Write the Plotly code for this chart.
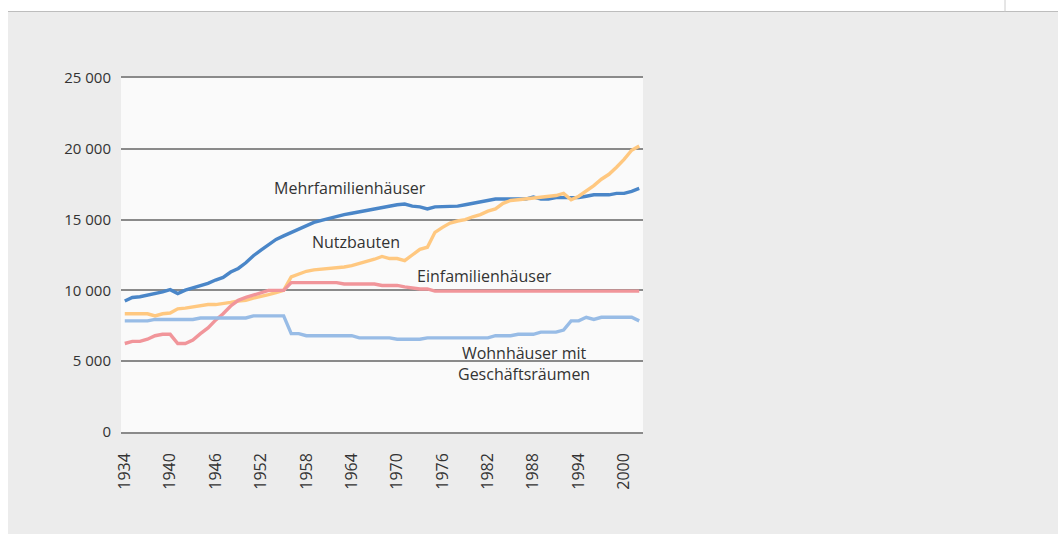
import plotly.graph_objects as go

years = list(range(1934, 2003))

mehrfamilien = [9250, 9500, 9550, 9650, 9800, 9900, 10050, 9780, 10020, 10180,
                10300, 10500, 10730, 10920, 11300, 11550, 11950, 12450, 12850, 13250,
                13600, 13850, 14100, 14350, 14550, 14800, 14950, 15100, 15250, 15350,
                15450, 15550, 15650, 15750, 15900, 15950, 16050, 16100, 15950, 15900,
                15750, 15900, 15900, 15900, 15950, 16050, 16150, 16250, 16300, 16450,
                16450, 16450, 16450, 16450, 16600, 16450, 16450, 16550, 16550, 16550,
                16550, 16650, 16750, 16750, 16750, 16850, 16850, 17000, 17200]

nutzbauten = [8350, 8350, 8350, 8350, 8200, 8350, 8400, 8700, 8750, 8850,
              8950, 9000, 9000, 9050, 9150, 9250, 9300, 9450, 9550, 9700,
              9850, 10000, 10950, 11150, 11350, 11450, 11500, 11500, 11600, 11650,
              11750, 11900, 12000, 12200, 12400, 12250, 12250, 12100, 12500, 12900,
              13050, 14100, 14450, 14750, 14900, 15000, 15200, 15350, 15600, 15750,
              16150, 16350, 16400, 16450, 16500, 16600, 16600, 16700, 16850, 16400,
              16650, 17000, 17400, 17850, 18200, 18700, 19250, 19900, 20200]

einfamilien = [6250, 6400, 6400, 6550, 6800, 6900, 6900, 6250, 6250, 6500,
               6950, 7350, 7900, 8350, 8900, 9300, 9500, 9650, 9800, 10000,
               10000, 10000, 10550, 10550, 10550, 10550, 10550, 10550, 10550, 10450,
               10450, 10450, 10450, 10450, 10350, 10350, 10350, 10250, 10150, 10100,
               10100, 9950, 9950, 9950, 9950, 9950, 9950, 9950, 9950, 9950,
               9950, 9950, 9950, 9950, 9950, 9950, 9950, 9950, 9950, 9950,
               9950, 9950, 9950, 9950, 9950, 9950, 9950, 9950, 9950]

wohn_geschaeft = [7850, 7850, 7850, 7850, 7950, 7950, 7950, 7950, 7950, 7950,
                  8050, 8050, 8050, 8050, 8050, 8050, 8050, 8200, 8200, 8200,
                  8200, 8200, 6950, 6950, 6800, 6800, 6800, 6800, 6800, 6800,
                  6800, 6650, 6650, 6650, 6650, 6650, 6550, 6550, 6550, 6550,
                  6650, 6650, 6650, 6650, 6650, 6650, 6650, 6650, 6650, 6800,
                  6800, 6800, 6900, 6900, 6900, 7050, 7050, 7050, 7200, 7850,
                  7850, 8100, 7950, 8100, 8100, 8100, 8100, 8100, 7850]

x_ticks = list(range(1934, 2001, 6))
y_ticks = [0, 5000, 10000, 15000, 20000, 25000]
y_tick_text = ["0", "5 000", "10 000", "15 000", "20 000", "25 000"]

series = [
    ("Mehrfamilienhäuser", mehrfamilien, "#4a86c8"),
    ("Nutzbauten", nutzbauten, "#ffc880"),
    ("Einfamilienhäuser", einfamilien, "#f1959a"),
    ("Wohnhäuser mit Geschäftsräumen", wohn_geschaeft, "#98bce6"),
]

labels = [
    ("Mehrfamilienhäuser", 1963.8, 17250),
    ("Nutzbauten", 1964.6, 13400),
    ("Einfamilienhäuser", 1981.5, 11010),
    ("Wohnhäuser mit<br>Geschäftsräumen", 1986.8, 4810),
]

W, H = 1058, 534
ML, MR, MT, MB = 121, 415, 78, 102
PW, PH = W - ML - MR, H - MT - MB

def px(x):
    return (x - ML) / PW

def py(y):
    return (H - MB - y) / PH

fig = go.Figure()
for name, vals, color in series:
    fig.add_trace(go.Scatter(x=years, y=vals, mode="lines", name=name,
                             line=dict(color=color, width=3.4)))

for text, x, y in labels:
    fig.add_annotation(x=x, y=y, xref="x", yref="y", text=text, showarrow=False,
                       font=dict(size=16, color="#333333", family="Open Sans"),
                       align="center")

shapes = [
    dict(type="rect", xref="paper", yref="paper", x0=px(-5), x1=px(W + 5),
         y0=py(11.5), y1=py(-5), fillcolor="white", line=dict(width=0), layer="above"),
    dict(type="rect", xref="paper", yref="paper", x0=px(-5), x1=px(8),
         y0=py(H + 5), y1=py(-5), fillcolor="white", line=dict(width=0), layer="above"),
    dict(type="line", xref="paper", yref="paper", x0=px(8), x1=px(W + 5),
         y0=py(11.5), y1=py(11.5), line=dict(color="#bdbdbd", width=1.2)),
    dict(type="line", xref="paper", yref="paper", x0=px(1005), x1=px(1005),
         y0=py(0), y1=py(11.5), line=dict(color="#cccccc", width=1)),
]

fig.update_layout(
    width=W, height=H,
    margin=dict(l=ML, r=MR, t=MT, b=MB, pad=0),
    paper_bgcolor="#ececec",
    plot_bgcolor="#fafafa",
    showlegend=False,
    shapes=shapes,
    font=dict(family="Open Sans", size=14, color="#333333"),
    xaxis=dict(range=[1933.5, 2002.5], tickvals=x_ticks, ticktext=[str(t) for t in x_ticks],
               tickangle=-90, showgrid=False, zeroline=False, showline=True, mirror=True,
               linecolor="#8a8a8a", linewidth=1.5, ticklabelstandoff=13,
               ticks="", ticklen=0, tickfont=dict(size=16, color="#333333")),
    yaxis=dict(range=[0, 25000], tickvals=y_ticks, ticktext=y_tick_text,
               showgrid=True, gridcolor="#8a8a8a", gridwidth=1.5, zeroline=False,
               showline=False, ticks="", ticklen=0, ticklabelstandoff=9,
               tickfont=dict(size=15, color="#333333")),
)

fig.write_html("out.html", post_script="document.body.style.margin='0';",
               config={"displayModeBar": False})
